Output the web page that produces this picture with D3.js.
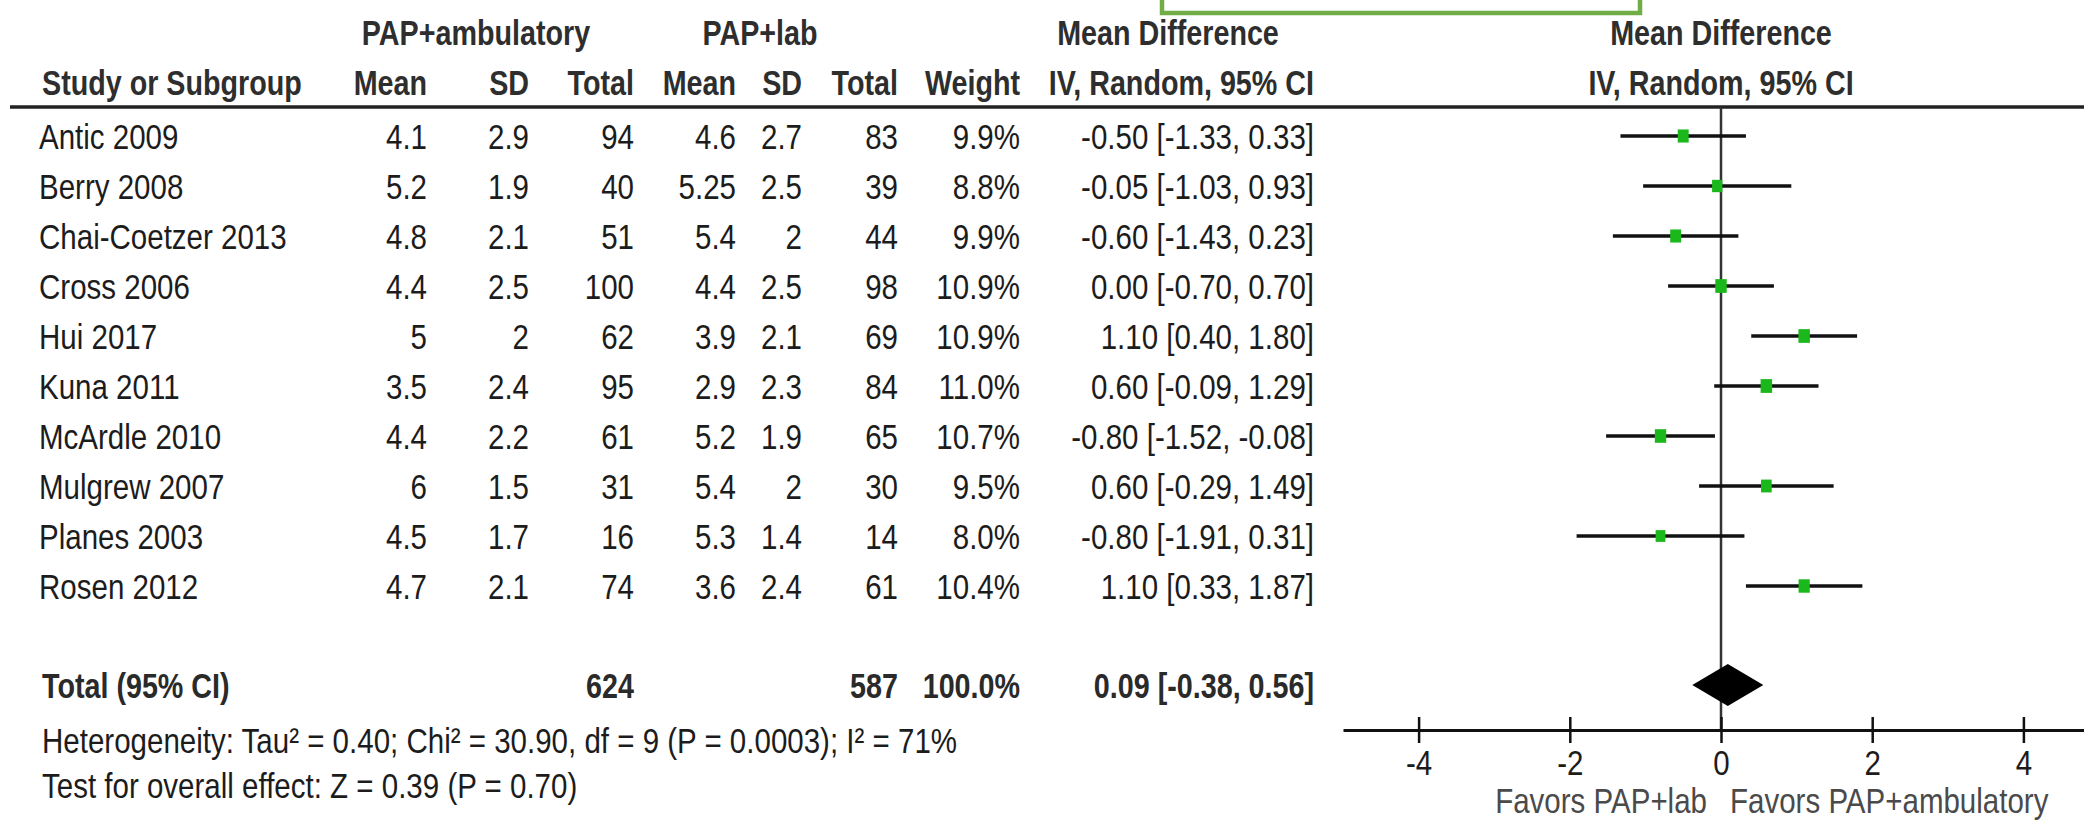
<!DOCTYPE html>
<html lang="en">
<head>
    <meta charset="UTF-8">
    <title>Forest plot: PAP+ambulatory vs PAP+lab</title>
    <script src="https://cdn.jsdelivr.net/npm/d3@7"></script>
    <style>
        body {
            margin: 0;
            background: #fff;
            font-family: "Liberation Sans", Arial, sans-serif;
        }
        .hdr {
            font-weight: bold;
            font-size: 35px;
            fill: #2e2e2e;
        }
        .cell {
            font-size: 36px;
            fill: #1c1c1c;
        }
        .total {
            font-weight: bold;
            font-size: 35px;
            fill: #2a2a2a;
        }
        .favors {
            font-size: 36px;
            fill: #4a4a4a;
        }
    </style>
</head>
<body>
    <div id="chart"></div>
    <script>
        // study rows
        const studies = ["Antic 2009", "Berry 2008", "Chai-Coetzer 2013", "Cross 2006", "Hui 2017",
                         "Kuna 2011", "McArdle 2010", "Mulgrew 2007", "Planes 2003", "Rosen 2012"];
        const ambMean  = [4.1, 5.2, 4.8, 4.4, 5, 3.5, 4.4, 6, 4.5, 4.7];
        const ambSD    = [2.9, 1.9, 2.1, 2.5, 2, 2.4, 2.2, 1.5, 1.7, 2.1];
        const ambTotal = [94, 40, 51, 100, 62, 95, 61, 31, 16, 74];
        const labMean  = [4.6, 5.25, 5.4, 4.4, 3.9, 2.9, 5.2, 5.4, 5.3, 3.6];
        const labSD    = [2.7, 2.5, 2, 2.5, 2.1, 2.3, 1.9, 2, 1.4, 2.4];
        const labTotal = [83, 39, 44, 98, 69, 84, 65, 30, 14, 61];
        const weight   = [9.9, 8.8, 9.9, 10.9, 10.9, 11.0, 10.7, 9.5, 8.0, 10.4];
        const md       = [-0.50, -0.05, -0.60, 0.00, 1.10, 0.60, -0.80, 0.60, -0.80, 1.10];
        const ciLow    = [-1.33, -1.03, -1.43, -0.70, 0.40, -0.09, -1.52, -0.29, -1.91, 0.33];
        const ciHigh   = [0.33, 0.93, 0.23, 0.70, 1.80, 1.29, -0.08, 1.49, 0.31, 1.87];

        // pooled result
        const totalLabel = "Total (95% CI)";
        const totals = [624, 587];
        const totalWeight = 100.0;
        const pooled = [0.09, -0.38, 0.56]; // estimate, low, high

        const xTicks = [-4, -2, 0, 2, 4];
        const favorLabels = ["Favors PAP+lab", "Favors PAP+ambulatory"];
        const heterogeneity = "Heterogeneity: Tau\u00b2 = 0.40; Chi\u00b2 = 30.90, df = 9 (P = 0.0003); I\u00b2 = 71%";
        const overallEffect = "Test for overall effect: Z = 0.39 (P = 0.70)";

        var width = 2084;
        var height = 823;

        const loc = d3.formatLocale({decimal: ".", thousands: ",", grouping: [3], currency: ["", ""], minus: "-"});
        const f1 = loc.format(".1f");
        const f2 = loc.format(".2f");
        const fTick = loc.format("d");
        const ciText = (m, lo, hi) => f2(m) + " [" + f2(lo) + ", " + f2(hi) + "]";

        var svg = d3.select("#chart").append("svg")
            .attr("width", width)
            .attr("height", height);

        svg.append("rect")
            .attr("width", width)
            .attr("height", height)
            .attr("fill", "#fff");

        // scales
        const x = d3.scaleLinear().domain([-5, 5]).range([1343, 2099]);
        const y = d3.scalePoint().domain(studies).range([136, 586]);
        const size = d3.scaleSqrt().domain([0, 11]).range([0, 11.5]);

        const axisY = 730;
        const totalY = 685;

        // column anchors (right aligned)
        const col = {name: 39, ambMean: 427, ambSD: 529, ambTotal: 634, labMean: 736,
                     labSD: 802, labTotal: 898, weight: 1020, ci: 1314};

        // condensed text: the original looks like Arial Narrow
        function txt(px, py, s, anchor, cls) {
            return svg.append("text")
                .attr("class", cls)
                .attr("transform", "translate(" + px + "," + py + ") scale(0.82,1)")
                .attr("text-anchor", anchor)
                .attr("dy", "0.36em")
                .text(s);
        }

        // green box at top
        svg.append("rect")
            .attr("x", 1162)
            .attr("y", -20)
            .attr("width", 478)
            .attr("height", 33)
            .attr("fill", "none")
            .attr("stroke", "#70ad47")
            .attr("stroke-width", 4.5);

        // header rows
        txt(476, 32, "PAP+ambulatory", "middle", "hdr");
        txt(760, 32, "PAP+lab", "middle", "hdr");
        txt(1168, 32, "Mean Difference", "middle", "hdr");
        txt(x(0), 32, "Mean Difference", "middle", "hdr");

        txt(42, 82, "Study or Subgroup", "start", "hdr");
        txt(col.ambMean, 82, "Mean", "end", "hdr");
        txt(col.ambSD, 82, "SD", "end", "hdr");
        txt(col.ambTotal, 82, "Total", "end", "hdr");
        txt(col.labMean, 82, "Mean", "end", "hdr");
        txt(col.labSD, 82, "SD", "end", "hdr");
        txt(col.labTotal, 82, "Total", "end", "hdr");
        txt(col.weight, 82, "Weight", "end", "hdr");
        txt(col.ci, 82, "IV, Random, 95% CI", "end", "hdr");
        txt(x(0), 82, "IV, Random, 95% CI", "middle", "hdr");

        svg.append("line")
            .attr("x1", 10).attr("x2", width)
            .attr("y1", 107).attr("y2", 107)
            .attr("stroke", "#222")
            .attr("stroke-width", 3.5);

        // study rows as text
        studies.forEach(function(s, i) {
            let yy = y(s);
            txt(col.name, yy, s, "start", "cell");
            txt(col.ambMean, yy, String(ambMean[i]), "end", "cell");
            txt(col.ambSD, yy, String(ambSD[i]), "end", "cell");
            txt(col.ambTotal, yy, String(ambTotal[i]), "end", "cell");
            txt(col.labMean, yy, String(labMean[i]), "end", "cell");
            txt(col.labSD, yy, String(labSD[i]), "end", "cell");
            txt(col.labTotal, yy, String(labTotal[i]), "end", "cell");
            txt(col.weight, yy, f1(weight[i]) + "%", "end", "cell");
            txt(col.ci, yy, ciText(md[i], ciLow[i], ciHigh[i]), "end", "cell");
        });

        // total row
        txt(42, totalY, totalLabel, "start", "total");
        txt(col.ambTotal, totalY, String(totals[0]), "end", "total");
        txt(col.labTotal, totalY, String(totals[1]), "end", "total");
        txt(col.weight, totalY, f1(totalWeight) + "%", "end", "total");
        txt(col.ci, totalY, ciText(pooled[0], pooled[1], pooled[2]), "end", "total");

        txt(42, 740, heterogeneity, "start", "cell");
        txt(42, 785, overallEffect, "start", "cell");

        // line of no effect
        svg.append("line")
            .attr("x1", x(0)).attr("x2", x(0))
            .attr("y1", 107).attr("y2", axisY)
            .attr("stroke", "#333")
            .attr("stroke-width", 2.5);

        // confidence intervals
        svg.selectAll("line.ci")
            .data(studies)
            .enter().append("line")
            .attr("class", "ci")
            .attr("x1", (d, i) => x(ciLow[i]))
            .attr("x2", (d, i) => x(ciHigh[i]))
            .attr("y1", d => y(d))
            .attr("y2", d => y(d))
            .attr("stroke", "#111")
            .attr("stroke-width", 3.5);

        // squares (a bit taller than wide, like the stretched original)
        svg.selectAll("rect.sq")
            .data(studies)
            .enter().append("rect")
            .attr("class", "sq")
            .attr("x", (d, i) => x(md[i]) - size(weight[i]) / 2)
            .attr("y", (d, i) => y(d) - size(weight[i]) * 0.6)
            .attr("width", (d, i) => size(weight[i]))
            .attr("height", (d, i) => size(weight[i]) * 1.2)
            .attr("fill", "#1bb81b");

        // pooled diamond
        svg.append("path")
            .attr("d", "M" + x(pooled[1]) + "," + totalY +
                       "L" + x(pooled[0]) + "," + (totalY - 21) +
                       "L" + x(pooled[2]) + "," + totalY +
                       "L" + x(pooled[0]) + "," + (totalY + 21) + "Z")
            .attr("fill", "#000");

        // x axis
        var axis = svg.append("g")
            .attr("transform", "translate(0," + axisY + ")")
            .call(d3.axisBottom(x).tickValues(xTicks).tickSize(13).tickSizeOuter(0).tickFormat(fTick));

        axis.attr("font-family", null).attr("font-size", null);
        axis.select(".domain").attr("stroke", "#111").attr("stroke-width", 3);
        axis.selectAll(".tick line")
            .attr("y1", -13)
            .attr("stroke", "#111")
            .attr("stroke-width", 2.5);
        axis.selectAll(".tick text")
            .attr("y", 32)
            .attr("dy", "0.36em")
            .attr("transform", "scale(0.82,1)")
            .attr("font-size", "36px")
            .attr("fill", "#1c1c1c");

        txt(x(0) - 14, 800, favorLabels[0], "end", "favors");
        txt(x(0) + 9, 800, favorLabels[1], "start", "favors");
    </script>
</body>
</html>
